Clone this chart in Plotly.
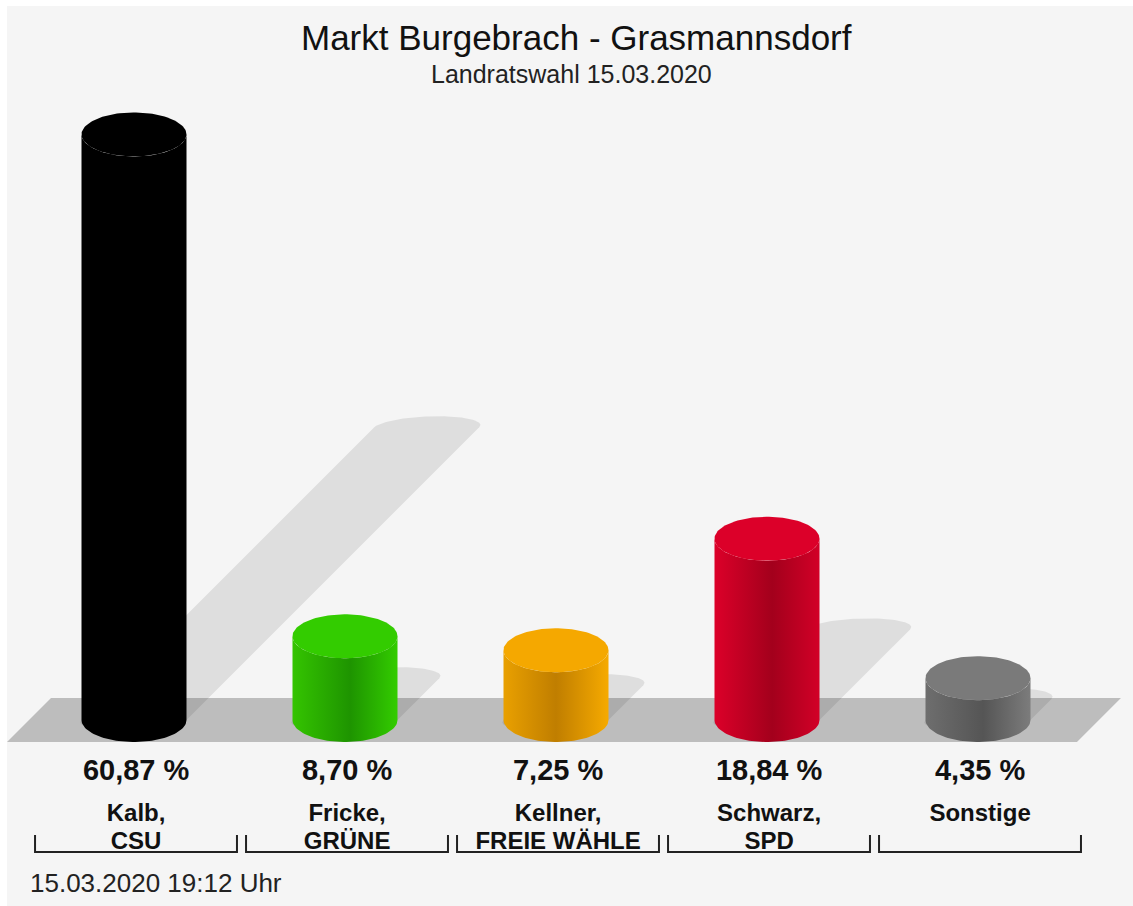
import numpy as np
import plotly.graph_objects as go

# ---------------- data ----------------
name_line1 = ["Kalb,", "Fricke,", "Kellner,", "Schwarz,", "Sonstige"]
name_line2 = ["CSU", "GRÜNE", "FREIE WÄHLE", "SPD", ""]
values = [60.87, 8.70, 7.25, 18.84, 4.35]
title = "Markt Burgebrach - Grasmannsdorf"
subtitle = "Landratswahl 15.03.2020"
timestamp = "15.03.2020 19:12 Uhr"

# ---------------- styles ----------------
top_colors = ["#000000", "#33cc00", "#f5a800", "#dc0029", "#7a7a7a"]
body_scales = [
    [[0, "#000000"], [1, "#000000"]],
    [[0, "#34c400"], [0.55, "#1e9400"], [1, "#33cc00"]],
    [[0, "#e9a000"], [0.5, "#c07e00"], [1, "#f6aa00"]],
    [[0, "#dc0029"], [0.55, "#a3001c"], [1, "#d20027"]],
    [[0, "#6e6e6e"], [0.55, "#555555"], [1, "#7c7c7c"]],
]
FONT = "Liberation Sans, Arial, Helvetica, sans-serif"

W, H = 1133, 906
ppx = 211.0          # pixels per category unit
ppy = 9.62           # pixels per percent
base_px = 720.0      # pixel row of value 0
x0_px = 134.0        # pixel column of first category
a = 52.5 / ppx       # cylinder half width (x units)
b = 22.0 / ppy       # ellipse half depth (y units)
shadow_s = 0.5

xr = [-x0_px / ppx, (W - x0_px) / ppx]
yr = [-(H - base_px) / ppy, base_px / ppy]

n = len(values)
cats = np.arange(n)

fig = go.Figure()

# floor parallelogram
shear = 2 * b * ppy / ppx
fl_left = cats[0] - 0.602
fl_right = cats[-1] + 0.469
fig.add_trace(go.Scatter(
    x=[fl_left, fl_right, fl_right + shear, fl_left + shear, fl_left],
    y=[-b, -b, b, b, -b],
    mode="lines", fill="toself", fillcolor="#bdbdbd",
    line=dict(width=0), hoverinfo="skip", showlegend=False))

# shadows
th_lo = np.linspace(np.pi, 2 * np.pi, 60)
th_hi = np.linspace(0, np.pi, 60)
for cx, v in zip(cats, values):
    xs = np.concatenate([cx + a * np.cos(th_lo), cx + a * np.cos(th_hi)])
    ys = np.concatenate([b * np.sin(th_lo), v + b * np.sin(th_hi)])
    sx = xs + shadow_s * ys * ppy / ppx
    sy = shadow_s * ys
    fig.add_trace(go.Scatter(
        x=np.append(sx, sx[0]), y=np.append(sy, sy[0]),
        mode="lines", fill="toself", fillcolor="rgba(0,0,0,0.09)",
        line=dict(width=0), hoverinfo="skip", showlegend=False))

# cylinders
th_full = np.linspace(0, 2 * np.pi, 120)
for cx, v, tc, sc in zip(cats, values, top_colors, body_scales):
    bx = np.concatenate([cx + a * np.cos(th_lo), (cx + a * np.cos(th_lo))[::-1]])
    by = np.concatenate([v + b * np.sin(th_lo), (b * np.sin(th_lo))[::-1]])
    fig.add_trace(go.Scatter(
        x=np.append(bx, bx[0]), y=np.append(by, by[0]),
        mode="lines", fill="toself", fillcolor=tc,
        fillgradient=dict(type="horizontal", colorscale=sc),
        line=dict(width=0), hoverinfo="skip", showlegend=False))
    fig.add_trace(go.Scatter(
        x=cx + a * np.cos(th_full), y=v + b * np.sin(th_full),
        mode="lines", fill="toself", fillcolor=tc,
        line=dict(width=0), hoverinfo="skip", showlegend=False))

# value labels
pct_labels = [f"{v:.2f}".replace(".", ",") + " %" for v in values]
fig.add_trace(go.Scatter(
    x=cats + 0.01, y=[(base_px - 773) / ppy] * n, mode="text", text=pct_labels,
    textfont=dict(family=FONT, size=29, color="#111111", weight="bold"),
    hoverinfo="skip", showlegend=False, cliponaxis=False))
fig.add_trace(go.Scatter(
    x=cats + 0.01, y=[(base_px - 815) / ppy] * n, mode="text", text=name_line1,
    textfont=dict(family=FONT, size=24, color="#111111", weight="bold"),
    hoverinfo="skip", showlegend=False, cliponaxis=False))
fig.add_trace(go.Scatter(
    x=cats + 0.01, y=[(base_px - 843) / ppy] * n, mode="text", text=name_line2,
    textfont=dict(family=FONT, size=24, color="#111111", weight="bold"),
    hoverinfo="skip", showlegend=False, cliponaxis=False))

# brackets
br_y0 = (base_px - 852) / ppy
br_y1 = (base_px - 835) / ppy
bxs, bys = [], []
for cx in cats:
    l, r = cx - 0.469, cx + 0.488
    bxs += [l, l, r, r, None]
    bys += [br_y1, br_y0, br_y0, br_y1, None]
fig.add_trace(go.Scatter(x=bxs, y=bys, mode="lines",
                         line=dict(color="#222222", width=2),
                         hoverinfo="skip", showlegend=False, cliponaxis=False))

fig.update_layout(
    width=W, height=H, autosize=False,
    margin=dict(l=0, r=0, t=0, b=0, pad=0),
    paper_bgcolor="#ffffff", plot_bgcolor="rgba(0,0,0,0)",
    xaxis=dict(range=xr, visible=False, fixedrange=True),
    yaxis=dict(range=yr, visible=False, fixedrange=True),
    shapes=[dict(type="rect", xref="paper", yref="paper",
                 x0=7 / W, x1=1, y0=0, y1=1 - 6 / H,
                 fillcolor="#f5f5f5", line=dict(width=0), layer="below")],
    annotations=[
        dict(text=title, xref="paper", yref="paper", x=576 / W, y=1 - 38 / H,
             xanchor="center", yanchor="middle", showarrow=False,
             font=dict(family=FONT, size=35, color="#111111")),
        dict(text=subtitle, xref="paper", yref="paper", x=571 / W, y=1 - 74 / H,
             xanchor="center", yanchor="middle", showarrow=False,
             font=dict(family=FONT, size=25, color="#222222")),
        dict(text=timestamp, xref="paper", yref="paper", x=28 / W, y=1 - 883 / H,
             xanchor="left", yanchor="middle", showarrow=False,
             font=dict(family=FONT, size=26, color="#222222")),
    ],
)

fig.write_html("out.html", config={"displayModeBar": False},
               post_script="document.body.style.margin='0';document.body.style.overflow='hidden';")
